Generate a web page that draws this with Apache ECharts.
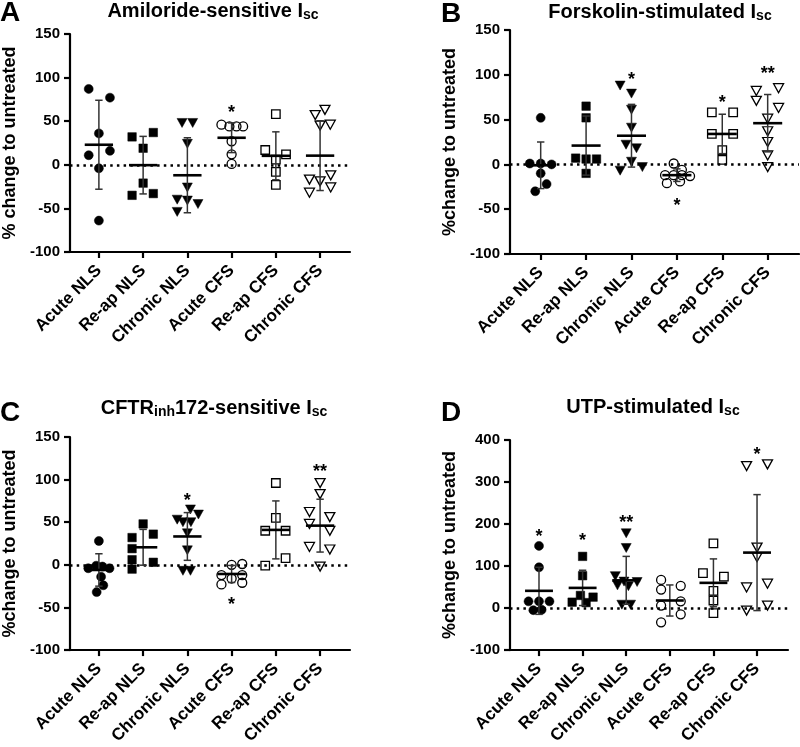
<!DOCTYPE html>
<html><head><meta charset="utf-8">
<script src="https://cdn.jsdelivr.net/npm/echarts@6/dist/echarts.min.js"></script>
<style>html,body{margin:0;padding:0;background:#fff}#c{width:800px;height:747px}</style>
</head><body><div id="c"></div>
<script>
const categories = ['Acute NLS','Re-ap NLS','Chronic NLS','Acute CFS','Re-ap CFS','Chronic CFS'];

// Points per group: [offset within group, % change]
const aAcuteNLS   = [[-0.23,87],[0.25,77],[0,36],[-0.23,11],[0.25,16],[0,-4],[0,-64]];
const aReapNLS    = [[-0.25,32],[0.23,37],[0,19],[0,-21],[-0.25,-35],[0.23,-33]];
const aChronicNLS = [[-0.12,48],[0.12,48],[0,24],[0,-26],[-0.23,-40],[0,-41],[0.24,-45],[-0.23,-54]];
const aAcuteCFS   = [[-0.23,46],[-0.05,44],[0.11,44],[0.26,44],[0,27],[0,12],[0,1]];
const aReapCFS    = [[0,58],[-0.24,17],[0.23,12],[0,6],[0,-8],[0,-23]];
const aChronicCFS = [[0.11,63],[-0.11,57],[0,45],[0.23,46],[-0.24,-17],[0,-19],[0.24,-12],[-0.24,-32],[0.24,-26]];
const aMean = [23, -0.4, -12, 31, 10.3, 10.5];
const aSD   = [51, 33, 43, 17, 27.5, 40];
const aStars = [[3, 64, 1]];

const bAcuteNLS   = [[0,52],[-0.24,1],[0,1],[0.24,0],[0,-10],[0.13,-22],[-0.12,-30]];
const bReapNLS    = [[0,65],[0,52],[-0.23,7],[0.23,6],[0,6],[0,-10]];
const bChronicNLS = [[-0.25,88],[0,79],[0,61],[0,41],[-0.12,22],[0.11,18],[0,3],[-0.25,-7],[0.24,-3]];
const bAcuteCFS   = [[-0.07,1],[0.11,-6],[-0.26,-12],[-0.07,-12],[0.11,-12],[0.29,-13],[-0.22,-21],[0.07,-19]];
const bReapCFS    = [[-0.23,58],[0.24,58],[-0.23,34],[0.24,34],[0,16],[0,5]];
const bChronicCFS = [[-0.25,82],[0.24,85],[-0.25,71],[0.24,63],[0,51],[0,37],[0,25],[0,10],[0,-3]];
const bMean = [-1, 21, 32, -12, 34, 46];
const bSD   = [26, 33, 35, 7, 22, 32];
const bStars = [[2, 99, 1], [3, -42, 1], [4, 73, 1], [5, 105, 2]];

const cAcuteNLS   = [[0,28],[-0.24,-4],[-0.06,-1],[0.08,-2],[0.24,-4],[0.05,-14],[0.1,-24],[-0.05,-32]];
const cReapNLS    = [[0,48],[-0.25,32],[0.23,36],[-0.25,19],[-0.25,6],[0.23,3],[-0.25,-5]];
const cChronicNLS = [[0.07,65],[-0.23,53],[0.25,59],[-0.1,50],[0.08,50],[0,37],[0,17],[-0.1,-7],[0.07,-7]];
const cAcuteCFS   = [[-0.23,-12],[0,0],[0.24,1],[0,-16],[0.24,-12],[-0.23,-23],[0.24,-21]];
const cReapCFS    = [[0,96],[0,55],[-0.24,40],[0.22,40],[0.22,8],[-0.24,-1]];
const cChronicCFS = [[0,96],[0,83],[-0.24,62],[0.22,56],[-0.24,48],[0.22,40],[-0.24,21],[0.22,18],[0,-2]];
const cMean = [-6, 20.6, 33.3, -10.7, 41, 46];
const cSD   = [19, 21, 28, 10, 34, 31];
const cStars = [[2, 79, 1], [3, -42, 1], [5, 114, 2]];

const dAcuteNLS   = [[0,148],[0,97],[-0.24,16],[0,16],[0.24,16],[-0.13,-5],[0.06,-4]];
const dReapNLS    = [[0,123],[0,77],[-0.05,30],[0.24,26],[-0.24,14],[0.08,13]];
const dChronicNLS = [[0,178],[0,143],[-0.25,76],[-0.05,63],[0.25,62],[-0.2,54],[0.05,52],[-0.1,8],[0.1,8]];
const dAcuteCFS   = [[-0.2,67],[-0.2,44],[0.25,53],[-0.2,6],[0.25,16],[-0.2,-34],[0.25,-15]];
const dReapCFS    = [[0,154],[-0.24,83],[0.24,75],[0,41],[0,18],[0,-12]];
const dChronicCFS = [[-0.24,338],[0.24,342],[0,144],[0,121],[-0.24,49],[0.24,58],[-0.24,-6],[0.24,6]];
const dMean = [41, 48, 66, 18, 60, 132];
const dSD   = [56, 42, 57, 37, 57, 138];
const dStars = [[0, 178, 1], [1, 168, 1], [2, 211, 2], [5, 374, 1]];

const yTicksABC = {min: -100, max: 150, interval: 50};
const yTicksD   = {min: -100, max: 400, interval: 100};

const FONT = '"Liberation Sans", Arial, Helvetica, sans-serif';

const panels = [
  {letter:'A', title:'{t|Amiloride-sensitive I}{s|sc}', yName:'% change to untreated',
   groups:[aAcuteNLS,aReapNLS,aChronicNLS,aAcuteCFS,aReapCFS,aChronicCFS], mean:aMean, sd:aSD, stars:aStars, ticks:yTicksABC,
   grid:{left:69, top:34, width:281, height:218}, xr:[-0.653,5.676], titleX:208, titleY:-5, letterX:-5, letterY:-6},
  {letter:'B', title:'{t|Forskolin-stimulated I}{s|sc}', yName:'%change to untreated',
   groups:[bAcuteNLS,bReapNLS,bChronicNLS,bAcuteCFS,bReapCFS,bChronicCFS], mean:bMean, sd:bSD, stars:bStars, ticks:yTicksABC,
   grid:{left:510, top:30, width:289, height:224}, xr:[-0.676,5.69], titleX:655, titleY:-4, letterX:436, letterY:-5},
  {letter:'C', title:'{t|CFTR}{s|inh}{t|172-sensitive I}{s|sc}', yName:'%change to untreated',
   groups:[cAcuteNLS,cReapNLS,cChronicNLS,cAcuteCFS,cReapCFS,cChronicCFS], mean:cMean, sd:cSD, stars:cStars, ticks:yTicksABC,
   grid:{left:69, top:437, width:281, height:218}, xr:[-0.653,5.676], titleX:209, titleY:392, letterX:-5, letterY:394},
  {letter:'D', title:'{t|UTP-stimulated I}{s|sc}', yName:'%change to untreated',
   groups:[dAcuteNLS,dReapNLS,dChronicNLS,dAcuteCFS,dReapCFS,dChronicCFS], mean:dMean, sd:dSD, stars:dStars, ticks:yTicksD,
   grid:{left:510, top:440, width:278, height:213.5}, xr:[-0.665,5.71], titleX:648, titleY:391, letterX:436, letterY:394}
];

const symbols = ['circle','rect','triangle','circle','rect','triangle'];
const symSizes = [9, 8.5, [10,9], 9, 8.5, [10,9]];

const titles = [], grids = [], xAxes = [], yAxes = [], series = [];
const tickPos = [0,1,2,3,4,5];

panels.forEach((p, i) => {
  titles.push({
    text: p.title, left: p.titleX, top: p.titleY, textAlign: 'center',
    textStyle: {
      fontFamily: FONT, color: '#000',
      rich: {
        t: {fontSize: 20, fontWeight: 'bold', fontFamily: FONT, color: '#000', lineHeight: 22, verticalAlign: 'middle'},
        s: {fontSize: 14, fontWeight: 'bold', fontFamily: FONT, color: '#000', lineHeight: 12, verticalAlign: 'bottom'}
      }
    }
  });
  titles.push({
    text: p.letter, left: p.letterX, top: p.letterY,
    textStyle: {fontSize: 28, fontWeight: 'bold', fontFamily: FONT, color: '#000'}
  });
  grids.push(Object.assign({containLabel: false}, p.grid));
  xAxes.push({
    gridIndex: i, type: 'value', min: p.xr[0], max: p.xr[1],
    axisLine: {show: true, onZero: false, lineStyle: {color: '#000', width: 2.2}},
    axisTick: {show: true, customValues: tickPos, length: 6, lineStyle: {color: '#000', width: 2.2}},
    axisLabel: {show: true, customValues: tickPos, rotate: 45, margin: 16,
      formatter: v => categories[Math.round(v)] || '',
      fontFamily: FONT, fontWeight: 'bold', fontSize: 17, color: '#000'},
    splitLine: {show: false}
  });
  yAxes.push({
    gridIndex: i, type: 'value', min: p.ticks.min, max: p.ticks.max, interval: p.ticks.interval,
    name: p.yName, nameLocation: 'middle', nameGap: 51, nameRotate: 90,
    nameTextStyle: {fontFamily: FONT, fontWeight: 'bold', fontSize: 18, color: '#000'},
    axisLine: {show: true, onZero: false, lineStyle: {color: '#000', width: 2.2}},
    axisTick: {show: true, length: 6, lineStyle: {color: '#000', width: 2.2}},
    axisLabel: {fontFamily: FONT, fontWeight: 'bold', fontSize: 15, color: '#000', margin: 10},
    splitLine: {show: false}
  });
  p.groups.forEach((pts, g) => {
    const filled = g < 3;
    series.push({
      type: 'scatter', xAxisIndex: i, yAxisIndex: i, z: 3,
      symbol: symbols[g], symbolSize: symSizes[g], symbolRotate: symbols[g] === 'triangle' ? 180 : 0,
      itemStyle: filled ? {color: '#000', borderColor: '#000', borderWidth: 0.5, opacity: 1}
                        : {color: 'rgba(255,255,255,0)', borderColor: '#000', borderWidth: 1.3, opacity: 1},
      data: pts.map(([o, v]) => [g + o, v]),
      silent: true
    });
  });
  series.push({
    type: 'custom', xAxisIndex: i, yAxisIndex: i, z: 4, silent: true,
    data: p.mean.map((m, g) => [g, m, p.sd[g]]),
    encode: {x: 0, y: 1},
    renderItem: (params, api) => {
      const x = api.value(0), m = api.value(1), s = api.value(2);
      const top = api.coord([x, m + s]), bot = api.coord([x, m - s]);
      const ml = api.coord([x - 0.32, m]), mr = api.coord([x + 0.32, m]);
      const cw = 3.7, es = {stroke: '#333', lineWidth: 1.5};
      return {type: 'group', children: [
        {type: 'line', shape: {x1: top[0], y1: top[1], x2: bot[0], y2: bot[1]}, style: es},
        {type: 'line', shape: {x1: top[0] - cw, y1: top[1], x2: top[0] + cw, y2: top[1]}, style: es},
        {type: 'line', shape: {x1: bot[0] - cw, y1: bot[1], x2: bot[0] + cw, y2: bot[1]}, style: es},
        {type: 'line', shape: {x1: ml[0], y1: ml[1], x2: mr[0], y2: mr[1]}, style: {stroke: '#000', lineWidth: 2.6}}
      ]};
    },
    markLine: {
      silent: true, symbol: 'none', label: {show: false}, z: 2,
      lineStyle: {color: '#000', type: [2.5, 4.2], width: 2.5},
      emphasis: {disabled: true},
      data: [{yAxis: 0}]
    }
  });
  series.push({
    type: 'custom', xAxisIndex: i, yAxisIndex: i, z: 5, silent: true,
    data: p.stars, encode: {x: 0, y: 1},
    renderItem: (params, api) => {
      const c = api.coord([api.value(0), api.value(1)]);
      return {type: 'text', x: c[0], y: c[1] + 4, style: {
        text: '*'.repeat(api.value(2)), align: 'center', verticalAlign: 'middle',
        font: 'bold 18px ' + FONT, fill: '#000'}};
    }
  });
});

const chart = echarts.init(document.getElementById('c'), null, {renderer: 'canvas'});
chart.setOption({
  animation: false, backgroundColor: '#fff',
  title: titles, grid: grids, xAxis: xAxes, yAxis: yAxes, series: series
});
</script></body></html>
